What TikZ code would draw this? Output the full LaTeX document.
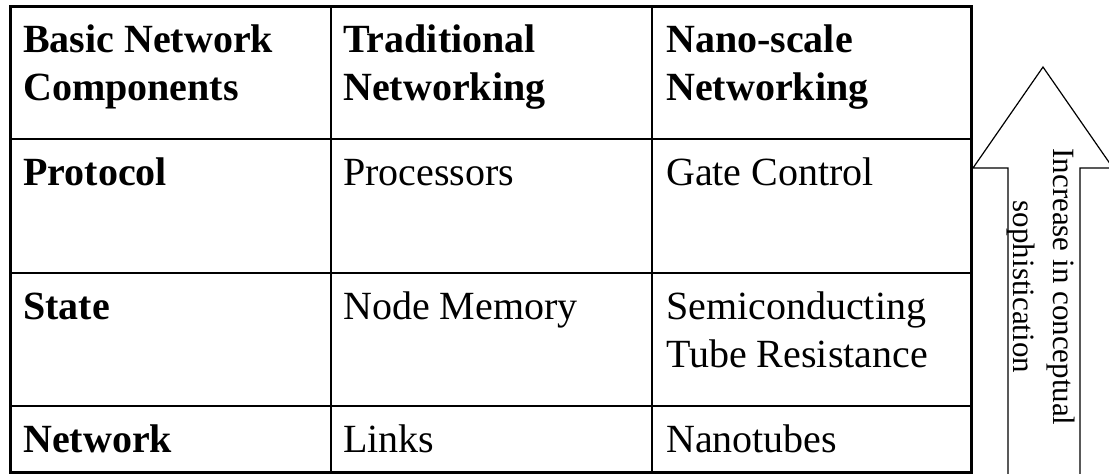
\documentclass[tikz,border=0pt]{standalone}
\usepackage{fontspec}
\setmainfont{Liberation Serif}
\begin{document}
\begin{tikzpicture}[x=1pt,y=-1pt,
 cell/.style={anchor=base west,inner sep=0pt,align=left,font=\fontsize{40}{48}\selectfont},
 head/.style={cell,font=\fontsize{40}{48}\selectfont\bfseries}]
 \useasboundingbox (0,0) rectangle (1109,474);
 \draw[line width=1.5pt] (331,6)--(331,472) (652,6)--(652,472); %縦の罫線
 \foreach \y in {139,273,406} \draw[line width=1.5pt] (10,\y)--(971,\y); %横の罫線
 \draw[line width=3pt] (10,6) rectangle (971,472); %外枠
 \node[head] (basic) at (23,100) {Basic Network\\Components}; %見出し(最終行の基線)
 \node[head] (trad) at (343,100) {Traditional\\Networking};
 \node[head] (nano) at (666,100) {Nano-scale\\Networking};
 \node[head] (proto) at (23,185) {Protocol}; %行見出し
 \node[head] (state) at (23,319) {State};
 \node[head] (net) at (23,452) {Network};
 \node[cell] (proc) at (343,185) {Processors}; %従来
 \node[cell] (mem) at (343,319) {Node Memory};
 \node[cell] (links) at (343,452) {Links};
 \node[cell] (gate) at (666,185) {Gate Control}; %ナノ
 \node[cell] (semi) at (666,367) {Semiconducting\\Tube Resistance};
 \node[cell] (tubes) at (666,452) {Nanotubes};
 \draw[line width=1.2pt] (1008,474)--(1008,168)--(973,168)--(1043,67)--(1113,168)--(1080,168)--(1080,474); %矢印
 \node[rotate=-90,align=center,inner sep=0pt,font=\fontsize{31}{40}\selectfont] (incr) at (1041,287) {Increase in conceptual\\sophistication};
\end{tikzpicture}
\end{document}
